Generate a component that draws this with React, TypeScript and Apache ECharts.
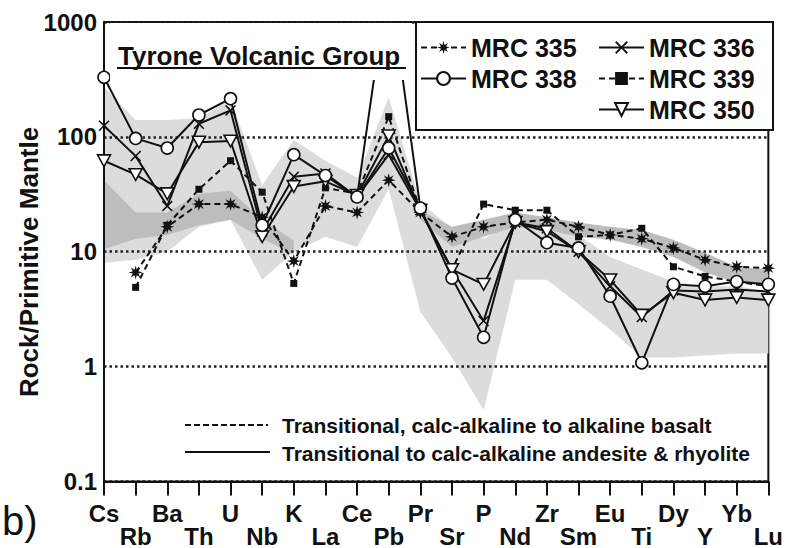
import React, { useEffect, useRef } from "react";
import * as echarts from "echarts";

// ---------- data ----------
const elements = ["Cs", "Rb", "Ba", "Th", "U", "Nb", "K", "La", "Ce", "Pb", "Pr", "Sr", "P", "Nd", "Zr", "Sm", "Eu", "Ti", "Dy", "Y", "Yb", "Lu"];
const yTicks = [0.1, 1, 10, 100, 1000];

const mrc335 = [null, 6.6, 16.5, 26, 26, 20, 8.3, 25, 22, 42, 22, 13.5, 16.5, 18, 19, 16.5, 14, 13, 10.8, 8.5, 7.4, 7.2];
const mrc336 = [125, 68, 25, 130, 170, 15, 45, 48, 30, 70, 23, 7, 2.5, 18, 16, 10, 5, 2.7, 4.6, 4.5, 4.7, 4.5];
const mrc338 = [330, 97, 80, 155, 215, 17, 70, 46, 30, 80, 24, 5.9, 1.8, 19, 12, 10.8, 4.1, 1.08, 5.2, 5.0, 5.5, 5.2];
const mrc339 = [null, 4.9, 17, 35, 62, 33, 5.3, 36, 32, 150, 23, 7, 26, 23, 23, 13.5, 14, 16, 7.4, 6.1, 5.5, 5.0];
const mrc350 = [62, 47, 32, 90, 92, 13.5, 37, 41, 31, 102, 23, 7, 5.2, 18, 15, 10, 5.7, 2.8, 4.4, 3.8, 4.0, 3.8];
const pbSpike = [null, null, null, null, null, null, null, null, 30, 2500, 24, null, null, null, null, null, null, null, null, null, null, null];

const basaltLow = [10.5, 13, 14, 17, 19, 13, 9.5, null, null, null, 19, 11, 13.5, 16.5, 15.5, 13.5, 12.7, 11, 9, 6.6, 5.4, 5];
const basaltHigh = [42, 22, 22, 32, 34, 19, 12.5, null, null, null, 23, 16.5, 19, 22, 20, 18, 16.5, 15.5, 12.7, 9.8, 7.4, 7];
const felsicLow = [8, 8.5, 10, 16.5, 19, 5.7, 10, 13.5, 11, 35, 3, 1.2, 0.42, 5.7, 5.7, 3.5, 2.1, 1.2, 1.2, 1.25, 1.3, 1.3];
const felsicHigh = [270, 140, 140, 145, 210, 38, 94, 62, 44, 220, 27, 16, 13, 18, 17, 14, 9, 7, 5.5, 5, 5, 4.5];

// ---------- styles ----------
const FONT = '"Liberation Sans", Arial, Helvetica, sans-serif';
const INK = "#111";

function starPath(n: number, ro: number, ri: number): string {
  let d = "";
  for (let k = 0; k < 2 * n; k++) {
    const r = k % 2 === 0 ? ro : ri;
    const a = (Math.PI * k) / n - Math.PI / 2;
    d += (k === 0 ? "M" : "L") + (10 + r * Math.cos(a)).toFixed(2) + "," + (10 + r * Math.sin(a)).toFixed(2) + " ";
  }
  return "path://" + d + "Z";
}
const STAR = starPath(8, 10, 4.2);
const XMARK = "path://M0,2 L2,0 L10,8 L18,0 L20,2 L12,10 L20,18 L18,20 L10,12 L2,20 L0,18 L8,10 Z";
const TRI_DOWN = "path://M0,0 L20,0 L10,18 Z";

function bandSeries(name: string, low: (number | null)[], high: (number | null)[], color: string) {
  return {
    type: "custom",
    name,
    z: 1,
    silent: true,
    data: [[0, 1]],
    renderItem: (_params: any, api: any) => {
      // split into contiguous runs of defined values, one polygon per run
      const runs: number[][] = [];
      let cur: number[] = [];
      for (let i = 0; i < high.length; i++) {
        if (high[i] == null || low[i] == null) {
          if (cur.length) runs.push(cur);
          cur = [];
        } else cur.push(i);
      }
      if (cur.length) runs.push(cur);
      const children = runs
        .filter((r) => r.length > 1)
        .map((r) => {
          const pts: number[][] = [];
          r.forEach((i) => pts.push(api.coord([i, high[i]])));
          r.slice().reverse().forEach((i) => pts.push(api.coord([i, low[i]])));
          return { type: "polygon", shape: { points: pts }, style: { fill: color } };
        });
      return { type: "group", children };
    },
  };
}

function lineSeries(name: string, data: (number | null)[], dashed: boolean, symbol: string, size: number, filled: boolean) {
  return {
    type: "line",
    name,
    data,
    z: 3,
    symbol,
    symbolSize: size,
    symbolKeepAspect: true,
    connectNulls: false,
    lineStyle: { color: INK, width: 2, type: dashed ? [6, 4] : "solid" },
    itemStyle: filled ? { color: INK, borderWidth: 0 } : { color: "#fff", borderColor: INK, borderWidth: 1.6 },
  };
}

export default function App() {
  const ref = useRef<HTMLDivElement>(null);
  useEffect(() => {
    if (!ref.current) return;
    const chart = echarts.init(ref.current, undefined, { renderer: "svg" });
    const option: any = {
      animation: false,
      backgroundColor: "#fff",
      textStyle: { fontFamily: FONT },
      grid: { left: 104, right: 13, top: 22, bottom: 66, show: true, borderColor: INK, borderWidth: 2, backgroundColor: "transparent" },
      xAxis: {
        type: "category",
        data: elements,
        boundaryGap: false,
        z: 1.5,
        axisLine: { lineStyle: { color: INK, width: 2 } },
        axisTick: { show: true, interval: 0, length: 14, lineStyle: { color: INK, width: 2 } },
        axisLabel: {
          interval: 0,
          margin: 20,
          color: INK,
          fontSize: 24,
          fontWeight: "bold",
          fontFamily: FONT,
          lineHeight: 23,
          verticalAlign: "top",
          formatter: (v: string, i: number) => (i % 2 === 0 ? v : "\n" + v),
        },
        splitLine: { show: false },
      },
      yAxis: {
        type: "log",
        logBase: 10,
        min: 0.1,
        max: 1000,
        z: 1.5,
        axisLine: { show: true, lineStyle: { color: INK, width: 2 } },
        axisTick: { show: false },
        axisLabel: {
          margin: 7,
          color: INK,
          fontSize: 24,
          fontWeight: "bold",
          fontFamily: FONT,
          formatter: (v: number) => {
            const t = yTicks.find((x) => Math.abs(Math.log10(x) - Math.log10(v)) < 1e-6);
            return t === undefined ? "" : String(t);
          },
        },
        splitLine: { show: true, lineStyle: { color: "#222", width: 2.5, type: [2.5, 3] } },
      },
      legend: [
        {
          data: ["MRC 335", "MRC 338"],
          orient: "vertical",
          left: 420,
          top: 35,
          padding: 0,
          itemGap: 6,
          itemWidth: 45,
          itemHeight: 16,
          z: 60,
          selectedMode: false,
          textStyle: { color: INK, fontSize: 25, fontWeight: "bold", fontFamily: FONT, lineHeight: 25 },
        },
        {
          data: ["MRC 336", "MRC 339", "MRC 350"],
          orient: "vertical",
          left: 598,
          top: 35,
          padding: 0,
          itemGap: 6,
          itemWidth: 45,
          itemHeight: 16,
          z: 60,
          selectedMode: false,
          textStyle: { color: INK, fontSize: 25, fontWeight: "bold", fontFamily: FONT, lineHeight: 25 },
        },
      ],
      graphic: [
        {
          type: "text", z: 51, x: 29, y: 262, rotation: Math.PI / 2, silent: true,
          style: { text: "Rock/Primitive Mantle", fill: INK, fontSize: 26, fontWeight: "bold", fontFamily: FONT, align: "center", verticalAlign: "middle" },
        },
        { type: "rect", z: 50, silent: true, shape: { x: 110, y: 23, width: 302, height: 57 }, style: { fill: "#fff" } },
        {
          type: "text", z: 51, x: 118, y: 56, silent: true,
          style: { text: "Tyrone Volcanic Group", fill: INK, fontSize: 26, fontWeight: "bold", fontFamily: FONT, verticalAlign: "middle" },
        },
        { type: "line", z: 51, silent: true, shape: { x1: 117, y1: 68, x2: 406, y2: 68 }, style: { stroke: INK, lineWidth: 2 } },
        { type: "rect", z: 50, silent: true, shape: { x: 416, y: 22, width: 357, height: 108 }, style: { fill: "#fff", stroke: INK, lineWidth: 2 } },
        { type: "line", z: 51, silent: true, shape: { x1: 185, y1: 425, x2: 268, y2: 425 }, style: { stroke: INK, lineWidth: 2, lineDash: [6, 3] } },
        {
          type: "text", z: 51, x: 282, y: 425, silent: true,
          style: { text: "Transitional, calc-alkaline to alkaline basalt", fill: INK, fontSize: 21, fontWeight: "bold", fontFamily: FONT, verticalAlign: "middle" },
        },
        { type: "line", z: 51, silent: true, shape: { x1: 185, y1: 452, x2: 270, y2: 452 }, style: { stroke: INK, lineWidth: 2 } },
        {
          type: "text", z: 51, x: 282, y: 453, silent: true,
          style: { text: "Transitional to calc-alkaline andesite & rhyolite", fill: INK, fontSize: 21, fontWeight: "bold", fontFamily: FONT, verticalAlign: "middle" },
        },
        {
          type: "text", z: 51, x: 2, y: 521, silent: true,
          style: { text: "b)", fill: INK, fontSize: 40, fontWeight: "normal", fontFamily: FONT, verticalAlign: "middle" },
        },
      ],
      series: [
        bandSeries("Andesite & rhyolite field", felsicLow, felsicHigh, "#dcdcdc"),
        bandSeries("Basalt field", basaltLow, basaltHigh, "#bdbdbd"),
        {
          type: "line",
          name: "Pb spike",
          data: pbSpike,
          z: 3,
          symbol: "none",
          connectNulls: false,
          lineStyle: { color: INK, width: 2 },
        },
        lineSeries("MRC 335", mrc335, true, STAR, 14, true),
        lineSeries("MRC 339", mrc339, true, "rect", 7, true),
        lineSeries("MRC 336", mrc336, false, XMARK, 11, true),
        lineSeries("MRC 350", mrc350, false, TRI_DOWN, 13, false),
        lineSeries("MRC 338", mrc338, false, "circle", 12, false),
      ],
    };
    chart.setOption(option);
    return () => chart.dispose();
  }, []);
  return <div ref={ref} style={{ position: "fixed", left: 0, top: 0, width: 786, height: 548 }} />;
}
